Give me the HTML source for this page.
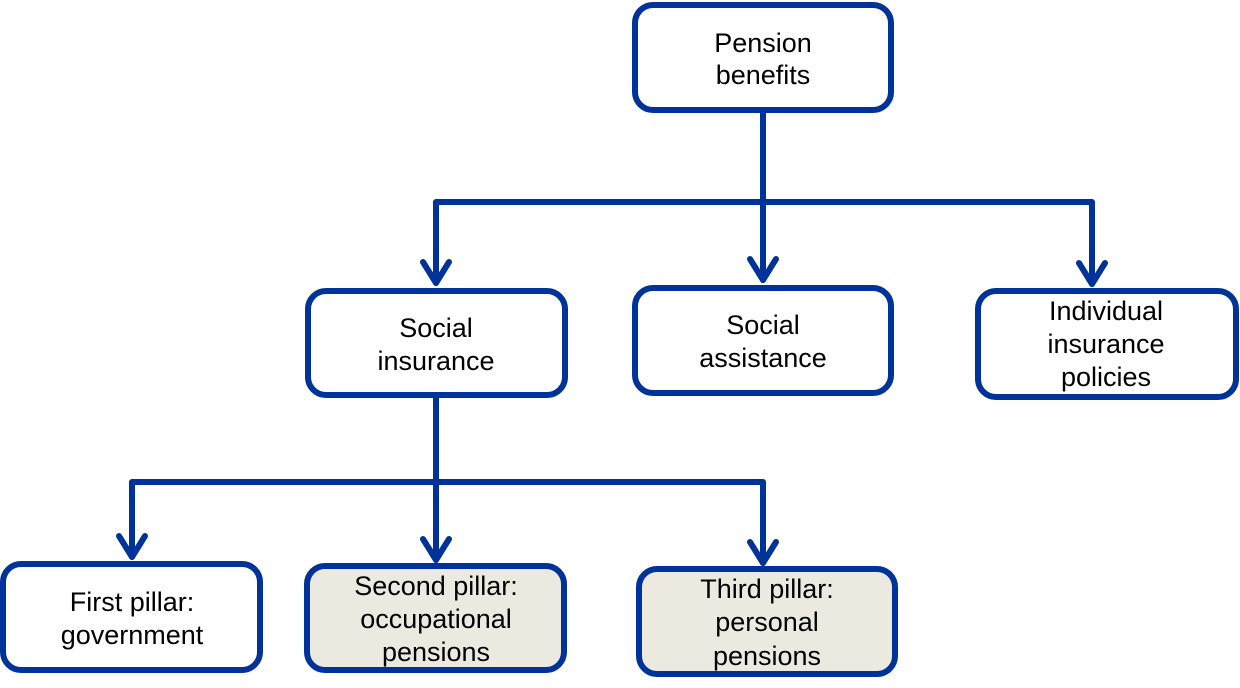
<!DOCTYPE html>
<html><head><style>body{margin:0;background:#fff}svg{display:block}text{font-family:"Liberation Sans",sans-serif;font-size:27px;fill:#000;text-anchor:middle;dominant-baseline:central}</style></head><body>
<svg width="1240" height="688" viewBox="0 0 1240 688">
<g fill="none" stroke="#003399" stroke-width="6" stroke-linecap="round" stroke-linejoin="round">
<path d="M763 113V202M436 202H1092M436 202V283M763 202V280M1092 202V284"/>
<path d="M423 262L436 283L449 262M750 259L763 280L776 259M1079 263L1092 284L1105 263"/>
<path d="M436 398V482M132 482H763M132 482V557M436 482V560M763 482V563"/>
<path d="M119 536L132 557L145 536M423 539L436 560L449 539M750 542L763 563L776 542"/>
<rect x="635" y="5" width="256" height="105" rx="18" fill="#fff"/>
<rect x="308" y="291" width="257" height="104" rx="18" fill="#fff"/>
<rect x="635" y="288" width="256" height="105" rx="18" fill="#fff"/>
<rect x="978" y="291" width="258" height="106" rx="18" fill="#fff"/>
<rect x="3" y="564" width="257" height="106" rx="18" fill="#fff"/>
<rect x="307" y="566" width="257" height="104" rx="18" fill="#ECEAE0"/>
<rect x="639" y="569" width="256" height="105" rx="18" fill="#ECEAE0"/>
</g>
<text x="763" y="43">Pension</text><text x="763" y="75">benefits</text>
<text x="436" y="328">Social</text><text x="436" y="361">insurance</text>
<text x="763" y="325">Social</text><text x="763" y="358">assistance</text>
<text x="1106" y="311">Individual</text><text x="1106" y="344">insurance</text><text x="1106" y="377">policies</text>
<text x="132" y="602">First pillar:</text><text x="132" y="635">government</text>
<text x="436" y="586">Second pillar:</text><text x="436" y="619">occupational</text><text x="436" y="652">pensions</text>
<text x="767" y="589">Third pillar:</text><text x="767" y="622">personal</text><text x="767" y="656">pensions</text>
</svg>
</body></html>
